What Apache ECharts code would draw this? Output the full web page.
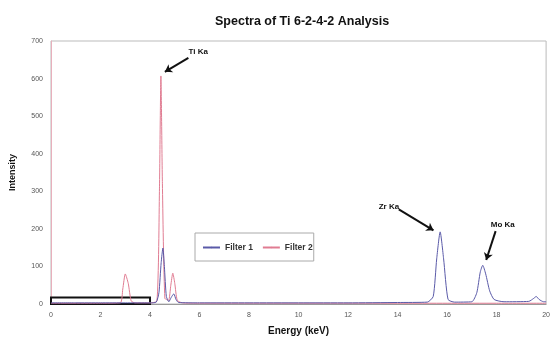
<!DOCTYPE html>
<html>
<head>
<meta charset="utf-8">
<script src="https://cdn.jsdelivr.net/npm/echarts@6/dist/echarts.min.js"></script>
<style>
  html, body { margin: 0; padding: 0; background: #fff; }
  #chart { width: 553px; height: 341px; }
</style>
</head>
<body>
<div id="chart"></div>
<script>
// Spectra of Ti 6-2-4-2 Analysis
const xTicks = [0, 2, 4, 6, 8, 10, 12, 14, 16, 18, 20];
const yTicks = [0, 100, 200, 300, 400, 500, 600, 700];

// [energy keV, intensity]
const filter1 = [
    [0, 3], [1, 3], [2, 3], [3, 3], [4, 3], [4.25, 5], [4.36, 30], [4.45, 110], [4.52, 149],
    [4.58, 100], [4.66, 20], [4.76, 6], [4.86, 18], [4.96, 27], [5.05, 12], [5.15, 4],
    [6, 3], [8, 3], [10, 3], [12, 3], [14, 4], [15.2, 5], [15.44, 20], [15.58, 120],
    [15.72, 192], [15.86, 120], [16.04, 12], [16.3, 5], [17.0, 6], [17.2, 30], [17.34, 85],
    [17.44, 103], [17.56, 80], [17.72, 35], [17.9, 12], [18.3, 6], [19.3, 7], [19.5, 15],
    [19.6, 20], [19.72, 12], [19.9, 6], [20, 6]
];
const filter2 = [
    [0, 2], [2, 2], [2.8, 3], [2.9, 40], [3.0, 80], [3.12, 55], [3.24, 8], [3.4, 3],
    [4.0, 3], [4.28, 8], [4.38, 300], [4.44, 607], [4.5, 320], [4.6, 15], [4.75, 10],
    [4.84, 50], [4.92, 82], [5.0, 55], [5.1, 10], [5.3, 3], [6, 2], [8, 2], [10, 2],
    [12, 2], [14, 2], [16, 2], [18, 2], [20, 2]
];

// annotations: label, label position, arrow start, arrow end
const notes = [
    { name: 'Ti Ka', label: [5.95, 672], from: [5.55, 655], to: [4.6, 618] },
    { name: 'Zr Ka', label: [13.65, 258], from: [14.05, 252], to: [15.45, 196] },
    { name: 'Mo Ka', label: [18.25, 212], from: [17.96, 194], to: [17.58, 117] }
];
const boxArea = [[0, 17], [4, -1]];

const chart = echarts.init(document.getElementById('chart'));
const font = 'Liberation Sans, Arial, sans-serif';

const option = {
    animation: false,
    title: {
        text: 'Spectra of Ti 6-2-4-2 Analysis',
        left: 210,
        top: 10,
        textStyle: { fontSize: 12.5, fontWeight: 'bold', color: '#111', fontFamily: font }
    },
    grid: {
        left: 48, right: 5, top: 41, bottom: 35,
        show: true, borderColor: '#bbb', borderWidth: 1
    },
    legend: {
        left: 195, top: 233,
        orient: 'horizontal',
        padding: [10, 1, 9, 7],
        borderColor: '#aaa', borderWidth: 1,
        itemWidth: 17, itemHeight: 2, itemGap: 9,
        textStyle: { fontSize: 8.5, fontWeight: 'bold', color: '#333', fontFamily: font },
        data: ['Filter 1', 'Filter 2']
    },
    xAxis: {
        type: 'value', min: 0, max: 20, interval: 2,
        name: 'Energy (keV)', nameLocation: 'middle', nameGap: 22,
        nameTextStyle: { fontSize: 10, fontWeight: 'bold', color: '#111', fontFamily: font },
        axisLine: { show: true, lineStyle: { color: '#999' } },
        axisTick: { show: false },
        splitLine: { show: false },
        axisLabel: { fontSize: 7, color: '#555', margin: 8, fontFamily: font,
            formatter: v => xTicks.includes(v) ? String(v) : '' }
    },
    yAxis: {
        type: 'value', min: 0, max: 700, interval: 100,
        name: 'Intensity', nameLocation: 'middle', nameGap: 34, nameRotate: 90,
        nameTextStyle: { fontSize: 9, fontWeight: 'bold', color: '#111', fontFamily: font },
        axisLine: { show: true, lineStyle: { color: '#e8b0bc' } },
        axisTick: { show: false },
        splitLine: { show: false },
        axisLabel: { fontSize: 7, color: '#555', margin: 8, fontFamily: font,
            formatter: v => yTicks.includes(v) ? String(v) : '' }
    },
    series: [
        {
            name: 'Filter 2',
            type: 'line',
            data: filter2,
            symbol: 'none',
            smooth: 0.2,
            z: 2,
            lineStyle: { color: '#e07c92', width: 1 },
            itemStyle: { color: '#e07c92' }
        },
        {
            name: 'Filter 1',
            type: 'line',
            data: filter1,
            symbol: 'none',
            smooth: 0.2,
            z: 3,
            lineStyle: { color: '#5a5aa8', width: 1 },
            itemStyle: { color: '#5a5aa8' },
            markLine: {
                silent: true,
                symbol: ['none', 'arrow'],
                symbolSize: 7,
                label: { show: false },
                lineStyle: { color: '#111', width: 2, type: 'solid' },
                data: notes.map(n => [{ coord: n.from }, { coord: n.to }])
            },
            markPoint: {
                silent: true,
                symbol: 'circle',
                symbolSize: 0,
                label: {
                    show: true, position: 'inside', formatter: '{b}',
                    fontSize: 8, fontWeight: 'bold', color: '#111', fontFamily: font
                },
                data: notes.map(n => ({ name: n.name, coord: n.label }))
            },
            markArea: {
                silent: true,
                itemStyle: { color: 'rgba(0,0,0,0)', borderColor: '#111', borderWidth: 2 },
                data: [[{ coord: boxArea[0] }, { coord: boxArea[1] }]]
            }
        }
    ]
};

chart.setOption(option);
</script>
</body>
</html>
